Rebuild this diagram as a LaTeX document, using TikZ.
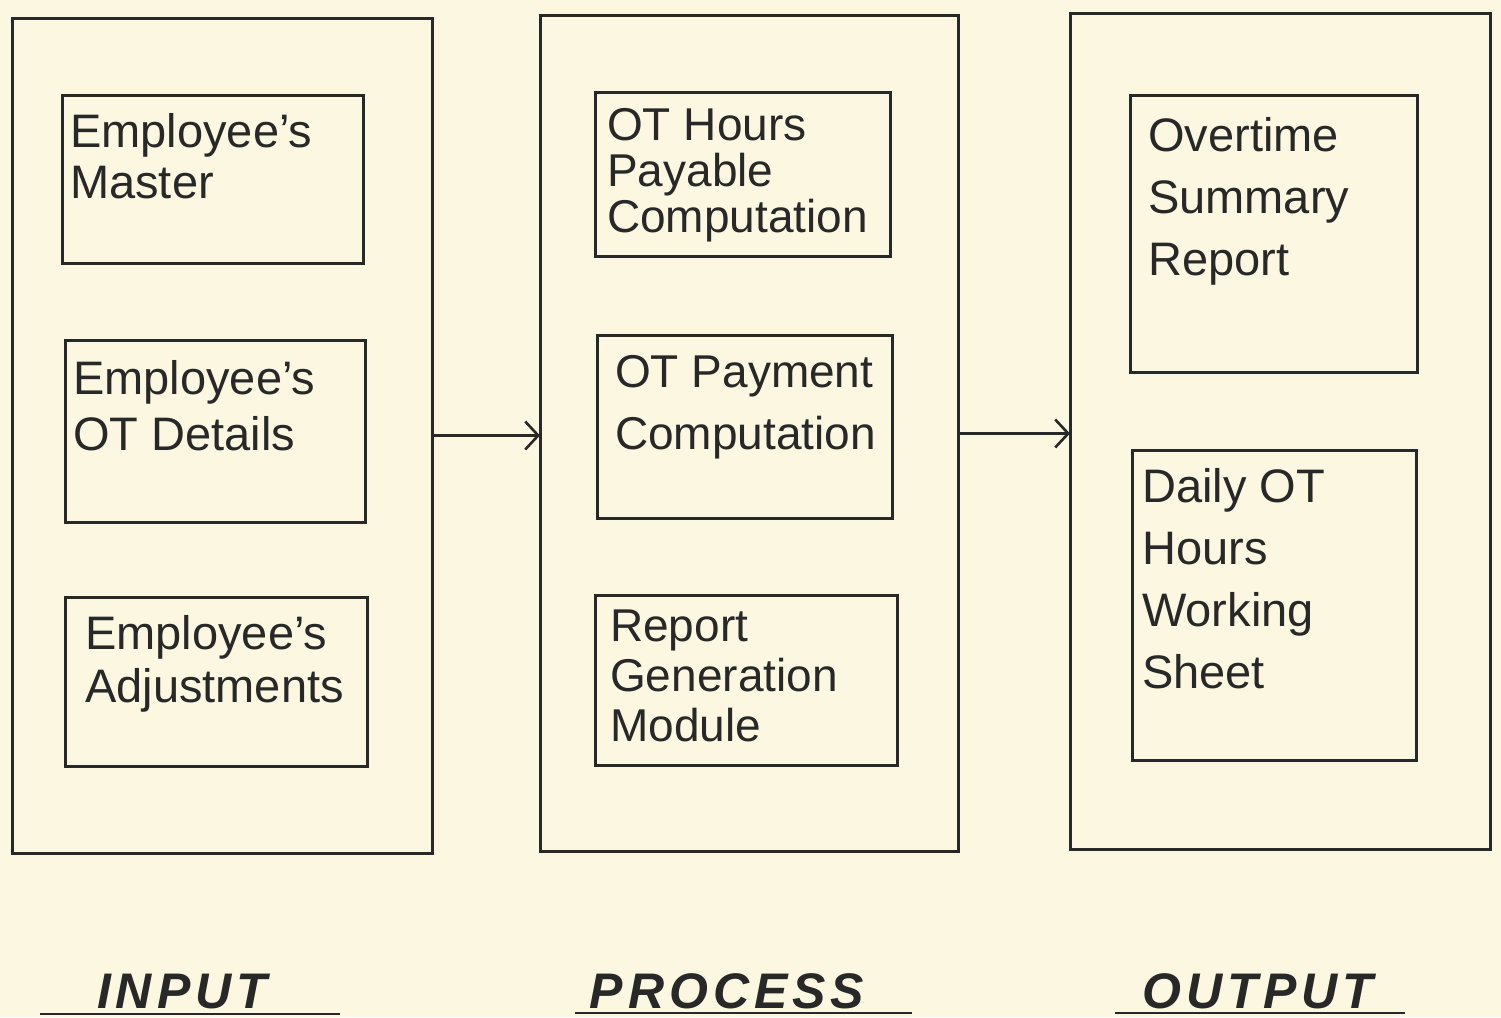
\documentclass[tikz,border=0pt]{standalone}
\usepackage{fontspec}
\setmainfont{Liberation Sans}
\newfontfamily\labelfont[LetterSpace=10]{Liberation Sans}
\usetikzlibrary{arrows.meta}
\definecolor{paper}{RGB}{252,247,225}
\definecolor{ink}{RGB}{40,40,40}
\tikzset{
  box/.style={draw=ink, line width=3pt, rectangle, inner sep=0pt, outer sep=0pt},
  txt/.style={anchor=north west, inner sep=0pt, align=left, text=ink},
  conn/.style={draw=ink, line width=2.6pt, -{Straight Barb[length=13pt,width=28pt]}},
  sect/.style={anchor=base, inner sep=0pt, text=ink, font=\labelfont\bfseries\itshape\fontsize{50}{50}\selectfont},
  uline/.style={draw=ink, line width=2.6pt}
}
\begin{document}
\begin{tikzpicture}[x=1pt,y=-1pt]
\fill[paper] (0,0) rectangle (1501,1017);
\useasboundingbox (0,0) rectangle (1501,1017);
% outer boxes
\node[box, minimum width=420pt, minimum height=835pt] (in) at (222,435.5) {};
\node[box, minimum width=418pt, minimum height=836pt] (proc) at (749,433.5) {};
\node[box, minimum width=420pt, minimum height=836pt] (out) at (1280,431.5) {};
% input inner boxes
\node[box, minimum width=301pt, minimum height=168pt] (m1) at (212.5,179) {};
\node[box, minimum width=300pt, minimum height=182pt] (m2) at (215,431) {};
\node[box, minimum width=302pt, minimum height=169pt] (m3) at (216,681.5) {};
% process inner boxes
\node[box, minimum width=295pt, minimum height=164pt] (p1) at (742.5,174) {};
\node[box, minimum width=295pt, minimum height=183pt] (p2) at (744.5,426.5) {};
\node[box, minimum width=302pt, minimum height=170pt] (p3) at (746,680) {};
% output inner boxes
\node[box, minimum width=287pt, minimum height=277pt] (o1) at (1273.5,233.5) {};
\node[box, minimum width=284pt, minimum height=310pt] (o2) at (1274,605) {};
% texts
\node[txt, font=\fontsize{47}{51}\selectfont] (t1) at ([shift={(8pt,-18pt)}]m1.north west) {Employee's\\Master};
\node[txt, font=\fontsize{47}{56}\selectfont] (t2) at ([shift={(8pt,-20pt)}]m2.north west) {Employee's\\OT Details};
\node[txt, font=\fontsize{47}{53}\selectfont] (t3) at ([shift={(20pt,-18pt)}]m3.north west) {Employee's\\Adjustments};
\node[txt, font=\fontsize{46}{46}\selectfont] (t4) at ([shift={(12pt,-16pt)}]p1.north west) {OT Hours\\Payable\\Computation};
\node[txt, font=\fontsize{46}{62}\selectfont] (t5) at ([shift={(18pt,-20pt)}]p2.north west) {OT Payment\\Computation};
\node[txt, font=\fontsize{46}{50}\selectfont] (t6) at ([shift={(15pt,-15pt)}]p3.north west) {Report\\Generation\\Module};
\node[txt, font=\fontsize{47}{62}\selectfont] (t7) at ([shift={(18pt,-22pt)}]o1.north west) {Overtime\\Summary\\Report};
\node[txt, font=\fontsize{47}{62}\selectfont] (t8) at ([shift={(10pt,-18pt)}]o2.north west) {Daily OT\\Hours\\Working\\Sheet};
% connectors
\draw[conn] (in.east) -- (in.east -| proc.west);
\draw[conn] (proc.east) -- (proc.east -| out.west);
% section labels
\node[sect] (lin) at (182,1008) {INPUT};
\node[sect] (lproc) at (727,1008) {PROCESS};
\node[sect] (lout) at (1258,1008) {OUTPUT};
\draw[uline] (40,1014) -- (340,1014);
\draw[uline] (575,1013) -- (912,1013);
\draw[uline] (1115,1013) -- (1405,1013);
\end{tikzpicture}
\end{document}
